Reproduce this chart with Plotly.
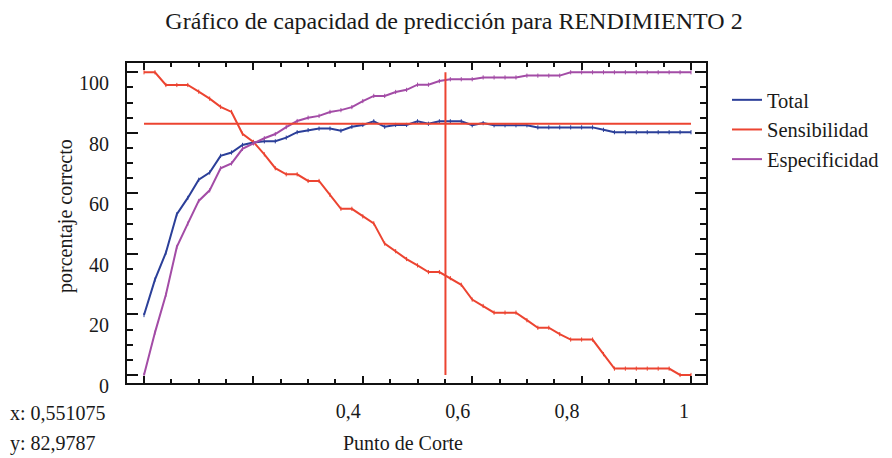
import plotly.graph_objects as go

# ---- data ----
cut_points = [0.00, 0.02, 0.04, 0.06, 0.08, 0.10, 0.12, 0.14, 0.16, 0.18,
              0.20, 0.22, 0.24, 0.26, 0.28, 0.30, 0.32, 0.34, 0.36, 0.38,
              0.40, 0.42, 0.44, 0.46, 0.48, 0.50, 0.52, 0.54, 0.56, 0.58,
              0.60, 0.62, 0.64, 0.66, 0.68, 0.70, 0.72, 0.74, 0.76, 0.78,
              0.80, 0.82, 0.84, 0.86, 0.88, 0.90, 0.92, 0.94, 0.96, 0.98,
              1.00]

total = [19.8, 31.5, 40.4, 53.1, 58.5, 64.5, 66.9, 72.4, 73.5, 76.0,
         76.8, 77.2, 77.2, 78.4, 80.2, 80.9, 81.4, 81.4, 80.7, 82.0,
         82.6, 83.8, 82.0, 82.6, 82.6, 83.8, 83.0, 83.8, 83.8, 83.8,
         82.5, 83.2, 82.5, 82.5, 82.5, 82.5, 81.8, 81.8, 81.8, 81.8,
         81.8, 81.8, 81.0, 80.2, 80.2, 80.2, 80.2, 80.2, 80.2, 80.2,
         80.2]

sensibilidad = [100, 100, 95.8, 95.8, 95.8, 93.6, 91.3, 88.6, 86.9, 79.7,
                77.0, 72.9, 68.3, 66.3, 66.3, 64.1, 64.1, 59.5, 54.9, 54.9,
                52.4, 50.1, 43.4, 40.9, 38.3, 36.2, 34.0, 34.0, 32.0, 29.8,
                24.9, 22.8, 20.6, 20.6, 20.6, 18.1, 15.6, 15.6, 13.5, 11.7,
                11.7, 11.7, 6.9, 2.1, 2.1, 2.1, 2.1, 2.1, 2.1, 0, 0]

especificidad = [0, 14.0, 26.5, 42.3, 50.0, 57.5, 61.0, 68.3, 69.9, 74.7,
                 76.5, 78.2, 79.6, 81.9, 83.9, 85.0, 85.6, 86.9, 87.5, 88.5,
                 90.5, 92.2, 92.2, 93.5, 94.2, 95.9, 95.9, 97.1, 97.7, 97.7,
                 97.7, 98.3, 98.3, 98.3, 98.3, 98.9, 98.9, 98.9, 98.9, 100,
                 100, 100, 100, 100, 100, 100, 100, 100, 100, 100, 100]

series_names = ["Total", "Sensibilidad", "Especificidad"]

cut_x = 0.551075
cut_y = 82.9787
h_line_x = [0, 1]
v_line_y = [0, 100]

x_tickvals = [0, 0.2, 0.4, 0.6, 0.8, 1]
x_ticktext = ["", "", "0,4", "0,6", "0,8", "1"]
y_tickvals = [0, 20, 40, 60, 80, 100]
y_ticktext = ["0", "20", "40", "60", "80", "100"]

# ---- styles ----
FONT = "Liberation Serif"
BLUE = "#2b3f99"
RED = "#ec4431"
PURPLE = "#a34ca6"
TXT = "#1a1a1a"

# the page body has an 8px margin: the figure is drawn 8px smaller
W, H = 884, 450
ML, MT, MR, MB = 119, 55, 186, 75
PW, PH = W - ML - MR, H - MT - MB


def px(xp):  # reference page x -> paper x
    return (xp - 8 - ML) / PW


def py(yp):  # reference page y -> paper y
    return (H - MB - (yp - 8)) / PH


fig = go.Figure()

for name, vals, col in [(series_names[0], total, BLUE),
                        (series_names[1], sensibilidad, RED),
                        (series_names[2], especificidad, PURPLE)]:
    fig.add_trace(go.Scatter(
        x=cut_points, y=vals, name=name, mode="lines+markers",
        legendgroup=name, showlegend=False,
        line=dict(color=col, width=2),
        marker=dict(symbol="line-ns", size=3, color=col,
                    line=dict(color=col, width=1)),
    ))
    # legend entry (line only, like the reference legend)
    fig.add_trace(go.Scatter(
        x=[None], y=[None], name=name, mode="lines", legendgroup=name,
        line=dict(color=col, width=2), hoverinfo="skip",
    ))

fig.add_trace(go.Scatter(x=h_line_x, y=[cut_y, cut_y], mode="lines",
                         line=dict(color=RED, width=2), showlegend=False,
                         hoverinfo="skip"))
fig.add_trace(go.Scatter(x=[cut_x, cut_x], y=v_line_y, mode="lines",
                         line=dict(color=RED, width=2), showlegend=False,
                         hoverinfo="skip"))

axis_common = dict(
    showgrid=False, zeroline=False, showline=True, linecolor="#111",
    linewidth=2, mirror="allticks", ticks="inside", tickcolor="#111",
    tickwidth=2, tickfont=dict(family=FONT, size=20, color=TXT),
    automargin=False,
)

fig.update_xaxes(
    **axis_common,
    range=[-0.0311, 1.0274],
    tickmode="array", tickvals=x_tickvals, ticktext=x_ticktext,
    ticklen=7, ticklabelposition="outside left", ticklabelstandoff=9,
    minor=dict(dtick=0.05, tick0=0, ticks="inside", ticklen=4,
               tickwidth=1.5, tickcolor="#111"),
)
fig.update_yaxes(
    **axis_common,
    range=[-2.65, 103.07],
    tickmode="array", tickvals=y_tickvals, ticktext=y_ticktext,
    ticklen=11, ticklabelposition="outside bottom", ticklabelstandoff=12,
    ticklabelshift=-4,
    minor=dict(dtick=5, tick0=0, ticks="inside", ticklen=6,
               tickwidth=1.5, tickcolor="#111"),
)

# axis titles placed as in the reference
fig.add_annotation(text="Punto de Corte", xref="paper", yref="paper",
                   x=px(403), y=py(443),
                   xanchor="center", yanchor="middle", showarrow=False,
                   font=dict(family=FONT, size=20, color=TXT))
fig.add_annotation(text="porcentaje correcto", xref="paper", yref="paper",
                   x=px(65), y=py(216), textangle=-90,
                   xanchor="center", yanchor="middle", showarrow=False,
                   font=dict(family=FONT, size=20, color=TXT))

fig.add_annotation(text="x: 0,551075", xref="paper", yref="paper",
                   x=px(8), y=py(413),
                   xanchor="left", yanchor="middle",
                   showarrow=False, font=dict(family=FONT, size=20, color=TXT))
fig.add_annotation(text="y: 82,9787", xref="paper", yref="paper",
                   x=px(8), y=py(443),
                   xanchor="left", yanchor="middle",
                   showarrow=False, font=dict(family=FONT, size=20, color=TXT))

fig.update_layout(
    width=W, height=H,
    margin=dict(l=ML, r=MR, t=MT, b=MB, autoexpand=False),
    paper_bgcolor="white", plot_bgcolor="white",
    font=dict(family=FONT, size=20, color=TXT),
    title=dict(text="Gráfico de capacidad de predicción para RENDIMIENTO 2",
               x=(454 - 8) / W, xanchor="center", xref="container",
               y=1 - (21 - 8) / H, yanchor="middle", yref="container",
               font=dict(family=FONT, size=24, color=TXT)),
    legend=dict(x=px(727), xanchor="left",
                y=py(80), yanchor="top",
                itemwidth=30, tracegroupgap=0,
                font=dict(family=FONT, size=20.5, color=TXT),
                bgcolor="rgba(0,0,0,0)", borderwidth=0),
    showlegend=True,
)

fig.write_html("out.html")
